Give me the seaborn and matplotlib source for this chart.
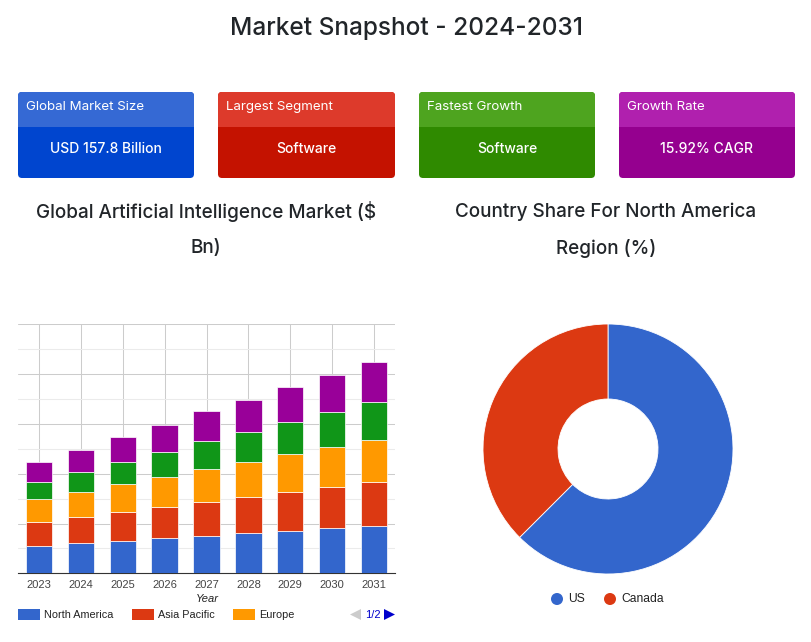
import matplotlib
matplotlib.use("Agg")
import matplotlib.pyplot as plt
from matplotlib.patches import FancyBboxPatch, Rectangle, Circle, Polygon
import seaborn as sns

years = ["2023", "2024", "2025", "2026", "2027", "2028", "2029", "2030", "2031"]
north_america = [54, 60, 64, 70, 74, 80, 84, 90, 94]
asia_pacific = [50, 54, 60, 64, 70, 74, 80, 84, 90]
europe = [46, 50, 56, 60, 66, 70, 76, 80, 84]
fourth_region = [34, 40, 44, 50, 55, 60, 64, 70, 76]
fifth_region = [40, 44, 50, 54, 60, 64, 70, 74, 81]

stack_values = [north_america, asia_pacific, europe, fourth_region, fifth_region]
stack_colors = ["#3366cc", "#dc3912", "#ff9900", "#109618", "#990099"]

legend_names = ["North America", "Asia Pacific", "Europe"]
legend_x = [18, 132, 233]

share_names = ["US", "Canada"]
share_values = [62.5, 37.5]
share_colors = ["#3366cc", "#dc3912"]

card_titles = ["Global Market Size", "Largest Segment", "Fastest Growth", "Growth Rate"]
card_values = ["USD 157.8 Billion", "Software", "Software", "15.92% CAGR"]
card_head = ["#3569d4", "#dd3a2b", "#4ea41f", "#b020ae"]
card_body = ["#0045cf", "#c41200", "#2f8a00", "#95008f"]
card_left = [18, 218, 419, 619]
card_width = [176, 177, 176, 176]

W, H = 811, 642
FONT = "Inter"
CHART_FONT = "Liberation Sans"

sns.set_theme(style="white")
plt.rcParams["font.family"] = [FONT, "DejaVu Sans"]

fig = plt.figure(figsize=(W / 100, H / 100), dpi=100, facecolor="white")

# page layer in pixel coordinates, for cards, headings and legends
page = fig.add_axes([0, 0, 1, 1], zorder=3)
page.set_xlim(0, W)
page.set_ylim(H, 0)
page.axis("off")
page.patch.set_alpha(0)

page.text(406, 29, "Market Snapshot - 2024-2031", fontsize=17.6, ha="center", va="center", color="#212529", fontweight="medium")

for i in range(4):
    x, w = card_left[i], card_width[i]
    card = FancyBboxPatch((x, 92), w, 86, boxstyle="round,pad=0,rounding_size=4", fc=card_body[i], ec="none")
    page.add_patch(card)
    head = Rectangle((x, 92), w, 35, fc=card_head[i], ec="none")
    page.add_patch(head)
    head.set_clip_path(card)
    page.text(x + 8, 107, card_titles[i], fontsize=9.6, color="white", va="center")
    page.text(x + w / 2, 149, card_values[i], fontsize=10, color="white", ha="center", va="center", fontweight="medium")

for cx, lines in [(206, ["Global Artificial Intelligence Market (\\$", "Bn)"]),
                  (606, ["Country Share For North America", "Region (%)"])]:
    for y, line in zip([212, 248.5], lines):
        page.text(cx, y, line, fontsize=13.6, ha="center", va="center", color="#212529", fontweight="medium")

# stacked bars
ax = fig.add_axes([18 / W, (H - 573.3) / H, 377 / W, 249 / H])
bottom = [0] * len(years)
for vals, col in zip(stack_values, stack_colors):
    sns.barplot(x=years, y=vals, bottom=bottom, color=col, width=0.63, saturation=1,
                edgecolor="white", linewidth=0.5, ax=ax, zorder=3)
    bottom = [b + v for b, v in zip(bottom, vals)]

ax.set_xlim(-0.5, 8.5)
ax.set_ylim(0, 500)
ax.set_yticks(range(0, 501, 100))
ax.set_yticks(range(50, 500, 100), minor=True)
ax.set_yticklabels([])
ax.grid(True, axis="y", which="major", color="#cccccc", lw=0.75, zorder=0)
ax.grid(True, axis="y", which="minor", color="#ebebeb", lw=0.75, zorder=0)
ax.grid(True, axis="x", color="#cccccc", lw=0.75, zorder=0)
ax.set_axisbelow(True)
for side in ["top", "left", "right"]:
    ax.spines[side].set_visible(False)
ax.spines["bottom"].set_color("#333333")
ax.spines["bottom"].set_linewidth(0.8)
ax.tick_params(axis="x", length=0, pad=5, labelsize=8, labelcolor="#444444")
ax.tick_params(axis="y", which="both", length=0)
for lab in ax.get_xticklabels():
    lab.set_fontfamily(CHART_FONT)
ax.set_xlabel("")
ax.set_ylabel("")
page.text(207, 599, "Year", fontsize=8, style="italic", family=CHART_FONT, color="#222222", ha="center", va="center")

for name, x, col in zip(legend_names, legend_x, stack_colors):
    page.add_patch(Rectangle((x, 609), 22, 11, fc=col, ec="none"))
    page.text(x + 26, 614.5, name, fontsize=7.8, family=CHART_FONT, color="#222222", va="center")

# legend pager
page.add_patch(Polygon([[350, 614.5], [361, 609], [361, 620]], fc="#cccccc", ec="none"))
page.text(373, 614.5, "1/2", fontsize=8, family=CHART_FONT, color="#0000cc", ha="center", va="center")
page.add_patch(Polygon([[384, 609], [395, 614.5], [384, 620]], fc="#0000cc", ec="none"))

# donut
pie_ax = fig.add_axes([483 / W, (H - 574) / H, 250 / W, 250 / H])
pie_ax.pie(share_values, colors=share_colors, startangle=90, counterclock=False, radius=1,
           wedgeprops={"width": 0.6, "edgecolor": "white", "linewidth": 0.6})
pie_ax.set_xlim(-1, 1)
pie_ax.set_ylim(-1, 1)

for name, cx, col in zip(share_names, [557, 610], share_colors):
    page.add_patch(Circle((cx, 599), 6, fc=col, ec="none"))
    page.text(cx + 11, 599, name, fontsize=8.7, family=CHART_FONT, color="#222222", va="center")

fig.savefig("out.png", dpi=100, facecolor="white")
